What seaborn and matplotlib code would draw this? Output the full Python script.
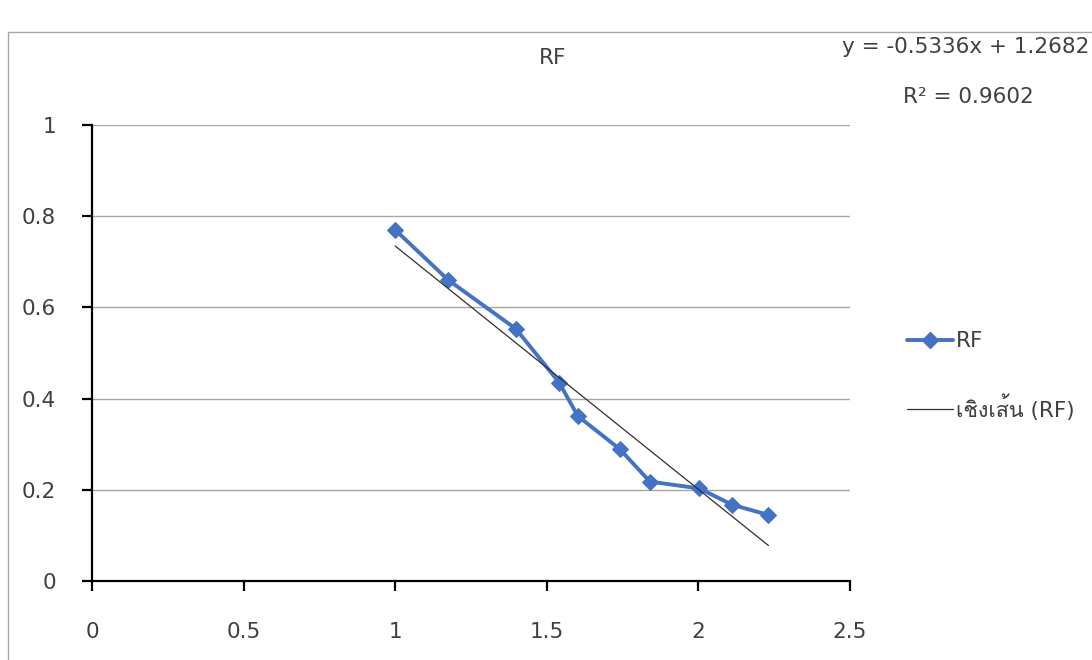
import matplotlib
matplotlib.use("Agg")
import matplotlib.pyplot as plt
from matplotlib.patches import Rectangle
from matplotlib.lines import Line2D
import numpy as np
import pandas as pd
import seaborn as sns

# RF measurements
x_vals = [1.000, 1.175, 1.398, 1.541, 1.602, 1.741, 1.840, 2.003, 2.112, 2.231]
rf_vals = [0.770, 0.660, 0.553, 0.435, 0.362, 0.289, 0.218, 0.203, 0.167, 0.145]

# Linear trend reported for the series
slope = -0.5336
intercept = 1.2682
r_squared = 0.9602

x_ticks = [0, 0.5, 1, 1.5, 2, 2.5]
x_tick_labels = ["0", "0.5", "1", "1.5", "2", "2.5"]
y_ticks = [0, 0.2, 0.4, 0.6, 0.8, 1.0]
y_tick_labels = ["0", "0.2", "0.4", "0.6", "0.8", "1"]

series_name = "RF"
trend_name = "เชิงเส้น (RF)"

sns.set_style("white")
plt.rcParams["font.family"] = ["DejaVu Sans", "Loma", "Noto Sans Thai"]

text_color = "#404040"
blue = "#4472C4"
fs = 15.5

df = pd.DataFrame({"x": x_vals, "RF": rf_vals})
trend_x = np.array([min(x_vals), max(x_vals)])
trend_df = pd.DataFrame({"x": trend_x, "y": slope * trend_x + intercept})

fig = plt.figure(figsize=(10.92, 6.6), dpi=100)
fig.patch.set_facecolor("white")

# chart area frame
fig.add_artist(Rectangle((8 / 1092, -0.2), 1.2, 1.2 - 32 / 660,
                         transform=fig.transFigure, fill=False,
                         edgecolor="#A6A6A6", linewidth=1.0))

ax = fig.add_axes([92 / 1092, 1 - 581 / 660, (850 - 92) / 1092, (581 - 125) / 660])

for yv in y_ticks[1:]:
    ax.axhline(yv, color="#A6A6A6", linewidth=1.0, zorder=0)

sns.lineplot(data=df, x="x", y="RF", ax=ax, color=blue, linewidth=2.8,
             marker="D", markersize=8, markeredgecolor=blue, zorder=3)
sns.lineplot(data=trend_df, x="x", y="y", ax=ax, color="#303030",
             linewidth=0.9, zorder=4)

ax.set_xlim(0, 2.5)
ax.set_ylim(0, 1)
ax.set_xticks(x_ticks)
ax.set_xticklabels(x_tick_labels)
ax.set_yticks(y_ticks)
ax.set_yticklabels(y_tick_labels)
ax.set_xlabel("")
ax.set_ylabel("")

for side in ("top", "right"):
    ax.spines[side].set_visible(False)
for side in ("left", "bottom"):
    ax.spines[side].set_color("black")
    ax.spines[side].set_linewidth(1.6)
ax.tick_params(axis="both", direction="out", length=7.2, width=1.6,
               color="black", labelsize=fs, labelcolor=text_color,
               bottom=True, left=True)
ax.tick_params(axis="x", pad=22)
ax.tick_params(axis="y", pad=18.7)

fig.text(553 / 1092, 1 - 58 / 660, "RF", ha="center", va="center",
         fontsize=fs, color=text_color)
fig.text(1089 / 1092, 1 - 47 / 660,
         "y = %.4fx + %.4f" % (slope, intercept), ha="right", va="center",
         fontsize=fs, color=text_color)
fig.text(968 / 1092, 1 - 97 / 660, "R² = %.4f" % r_squared,
         ha="center", va="center", fontsize=fs, color=text_color)

handles = [
    Line2D([], [], color=blue, linewidth=2.8, marker="D", markersize=8),
    Line2D([], [], color="#303030", linewidth=0.9),
]
fig.legend(handles, [series_name, trend_name], loc="center left",
           bbox_to_anchor=(888 / 1092, 1 - 376 / 660), frameon=False,
           fontsize=fs, labelcolor=text_color, handlelength=2.1,
           handletextpad=0.15, labelspacing=2.0)

fig.savefig("out.png", dpi=100)
